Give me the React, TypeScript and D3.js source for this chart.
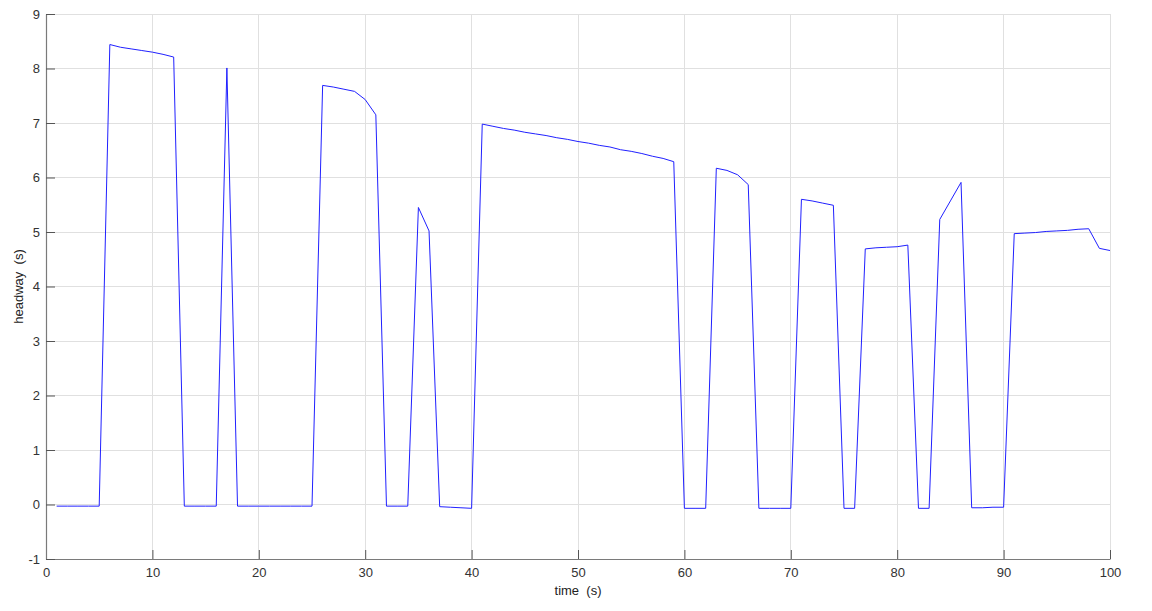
import React, { useEffect, useRef } from 'react';
import * as d3 from 'd3';

// time (s), one sample per second
const times: number[] = d3.range(1, 101);

// headway (s), t = 1..100
const headway: number[] = [
  -0.03, -0.03, -0.03, -0.03, -0.03, // 1-5
  8.44, 8.39, 8.36, 8.33, 8.30, 8.26, 8.21, // 6-12
  -0.03, -0.03, -0.03, -0.03, // 13-16
  8.01, // 17
  -0.03, -0.03, -0.03, -0.03, -0.03, -0.03, -0.03, -0.03, // 18-25
  7.69, 7.66, 7.62, 7.58, 7.43, 7.15, // 26-31
  -0.03, -0.03, -0.03, // 32-34
  5.45, 5.02, // 35-36
  -0.04, -0.05, -0.06, -0.07, // 37-40
  6.98, 6.94, 6.90, 6.87, 6.83, 6.80, 6.77, 6.73, 6.70, 6.66, // 41-50
  6.63, 6.59, 6.56, 6.51, 6.48, 6.44, 6.39, 6.35, 6.29, // 51-59
  -0.07, -0.07, -0.07, // 60-62
  6.17, 6.13, 6.05, 5.87, // 63-66
  -0.07, -0.07, -0.07, -0.07, // 67-70
  5.60, 5.57, 5.53, 5.49, // 71-74
  -0.07, -0.07, // 75-76
  4.69, 4.71, 4.72, 4.73, 4.76, // 77-81
  -0.07, -0.07, // 82-83
  5.23, 5.57, 5.91, // 84-86
  -0.06, -0.06, -0.05, -0.05, // 87-90
  4.97, 4.98, 4.99, 5.01, 5.02, 5.03, 5.05, 5.06, // 91-98
  4.70, 4.66, // 99-100
];

const xTicks: number[] = [0, 10, 20, 30, 40, 50, 60, 70, 80, 90, 100];
const yTicks: number[] = [-1, 0, 1, 2, 3, 4, 5, 6, 7, 8, 9];

const xLabel = 'time  (s)';
const yLabel = 'headway  (s)';

export default function App() {
  const svgRef = useRef<SVGSVGElement>(null);

  useEffect(() => {
    const width = 1152;
    const height = 611;
    const margin = { top: 14, right: 42, bottom: 52, left: 46 };
    const innerWidth = width - margin.left - margin.right;
    const innerHeight = height - margin.top - margin.bottom;

    const svg = d3.select(svgRef.current);
    svg.selectAll('*').remove();

    const chart = svg.append('g')
      .attr('transform', `translate(${margin.left},${margin.top})`);

    const x = d3.scaleLinear().domain([0, 100]).range([0, innerWidth]);
    const y = d3.scaleLinear().domain([-1, 9]).range([innerHeight, 0]);

    // grid
    chart.append('g')
      .selectAll('line')
      .data(xTicks.slice(1))
      .join('line')
      .attr('x1', d => x(d)).attr('x2', d => x(d))
      .attr('y1', 0).attr('y2', innerHeight)
      .attr('stroke', '#e0e0e0')
      .attr('shape-rendering', 'crispEdges');

    chart.append('g')
      .selectAll('line')
      .data(yTicks.slice(1))
      .join('line')
      .attr('x1', 0).attr('x2', innerWidth)
      .attr('y1', d => y(d)).attr('y2', d => y(d))
      .attr('stroke', '#e0e0e0')
      .attr('shape-rendering', 'crispEdges');

    // axes (ticks pointing inward), plain hyphen for negatives
    const fmt = (d: d3.NumberValue) => String(d);
    const xAxis = chart.append('g')
      .attr('transform', `translate(0,${innerHeight})`)
      .call(d3.axisBottom(x).tickValues(xTicks).tickFormat(fmt).tickSize(-9).tickPadding(9).tickSizeOuter(0));

    const yAxis = chart.append('g')
      .call(d3.axisLeft(y).tickValues(yTicks).tickFormat(fmt).tickSize(-9).tickPadding(6).tickSizeOuter(0));

    [xAxis, yAxis].forEach(ax => {
      ax.select('.domain').attr('stroke', '#7a7a7a').attr('stroke-width', 1.2);
      ax.selectAll('.tick line').attr('stroke', '#555').attr('stroke-width', 1);
      ax.selectAll('.tick text')
        .attr('fill', '#333')
        .style('font-family', '"Liberation Sans", Arial, sans-serif')
        .style('font-size', '13px');
    });

    // data line
    const line = d3.line<number>()
      .x((_, i) => x(times[i]))
      .y(d => y(d));

    chart.append('path')
      .datum(headway)
      .attr('fill', 'none')
      .attr('stroke', '#2020ff')
      .attr('stroke-width', 1)
      .attr('d', line);

    // axis labels
    svg.append('text')
      .attr('x', margin.left + innerWidth / 2)
      .attr('y', 595)
      .attr('text-anchor', 'middle')
      .attr('fill', '#222')
      .style('font-family', '"Liberation Sans", Arial, sans-serif')
      .style('font-size', '13px')
      .style('white-space', 'pre')
      .text(xLabel);

    svg.append('text')
      .attr('transform', `translate(23,${margin.top + innerHeight / 2}) rotate(-90)`)
      .attr('text-anchor', 'middle')
      .attr('fill', '#222')
      .style('font-family', '"Liberation Sans", Arial, sans-serif')
      .style('font-size', '13px')
      .style('white-space', 'pre')
      .text(yLabel);
  }, []);

  return (
    <svg
      ref={svgRef}
      width={1152}
      height={611}
      style={{ position: 'absolute', left: 0, top: 0, background: '#fff' }}
    />
  );
}
